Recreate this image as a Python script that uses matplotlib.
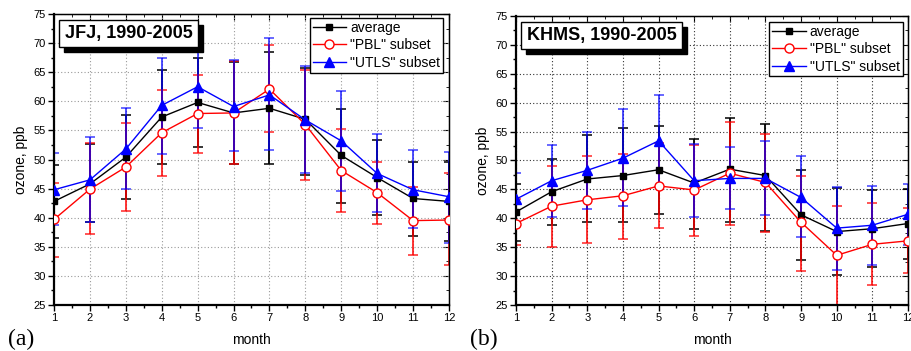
import numpy as np
import matplotlib
matplotlib.use("Agg")
import matplotlib.pyplot as plt
from matplotlib.ticker import MultipleLocator
from matplotlib.transforms import offset_copy

plt.rcParams['font.family'] = ['Liberation Sans', 'DejaVu Sans']

months = [1, 2, 3, 4, 5, 6, 7, 8, 9, 10, 11, 12]
labels = ["average", '"PBL" subset', '"UTLS" subset']

# JFJ (a): monthly means and lower / upper ends of the error bars
avg_a = [42.8, 45.8, 50.4, 57.3, 59.8, 58.0, 58.8, 56.9, 50.7, 46.9, 43.3, 42.8]
avg_a_lo = [36.5, 39.2, 43.2, 49.2, 52.1, 49.3, 49.2, 47.3, 42.5, 40.5, 36.9, 36.0]
avg_a_hi = [49.0, 52.6, 57.6, 65.4, 67.5, 66.8, 68.4, 65.8, 58.7, 53.3, 49.6, 49.5]
pbl_a = [39.7, 44.9, 48.7, 54.6, 57.9, 58.0, 62.1, 56.0, 48.1, 44.3, 39.5, 39.6]
pbl_a_lo = [33.3, 37.2, 41.1, 47.2, 51.2, 49.2, 54.7, 46.5, 40.9, 38.9, 33.6, 31.9]
pbl_a_hi = [46.0, 52.8, 56.3, 61.9, 64.5, 67.0, 69.7, 65.3, 55.3, 49.6, 45.3, 47.6]
utls_a = [44.8, 46.5, 51.8, 59.3, 62.5, 59.1, 61.1, 56.8, 53.2, 47.6, 44.8, 43.6]
utls_a_lo = [38.7, 39.3, 44.9, 50.9, 55.4, 51.5, 51.7, 47.6, 44.6, 40.9, 38.2, 35.6]
utls_a_hi = [51.1, 53.9, 58.9, 67.4, 71.0, 67.1, 70.8, 66.1, 61.8, 54.4, 51.6, 51.3]

# KHMS (b)
avg_b = [41.1, 44.6, 46.8, 47.4, 48.4, 46.1, 48.5, 47.4, 40.6, 37.7, 38.2, 39.1]
avg_b_lo = [36.0, 38.8, 39.4, 39.3, 40.8, 38.2, 39.3, 37.8, 32.7, 30.2, 31.6, 33.0]
avg_b_hi = [46.0, 50.2, 54.4, 55.7, 55.9, 53.8, 57.4, 56.3, 48.4, 45.3, 44.9, 45.0]
pbl_b = [39.1, 42.1, 43.2, 43.9, 45.6, 44.9, 47.8, 46.2, 39.3, 33.6, 35.5, 36.1]
pbl_b_lo = [35.3, 35.1, 35.7, 36.5, 38.4, 36.9, 38.8, 37.7, 30.9, 24.5, 28.4, 30.5]
pbl_b_hi = [43.3, 49.0, 50.7, 51.1, 53.0, 52.6, 56.7, 54.5, 47.4, 42.1, 42.6, 41.7]
utls_b = [43.3, 46.5, 48.3, 50.4, 53.4, 46.5, 46.9, 46.9, 43.6, 38.3, 38.8, 40.7]
utls_b_lo = [39.0, 40.3, 41.6, 42.1, 45.5, 40.2, 41.6, 40.5, 36.8, 31.1, 31.9, 35.3]
utls_b_hi = [47.8, 52.6, 54.9, 58.9, 61.3, 52.8, 52.4, 53.4, 50.8, 45.5, 45.6, 46.0]


def draw_series(ax, y, lo, hi, color, marker, ms, face, label, alpha):
    y = np.array(y)
    yerr = [y - np.array(lo), np.array(hi) - y]
    ax.errorbar(months, y, yerr=yerr, fmt='none', ecolor=color, elinewidth=1.3,
                capsize=3.5, capthick=1.1, alpha=alpha, zorder=2)
    ax.plot(months, y, color=color, lw=1.0, marker=marker, ms=ms,
            mfc=face, mec=color, mew=1.0, label=label, zorder=3)


def setup_panel(ax, title, grid_color, leg_anchor, letter, fig):
    ax.set_xlim(1, 12)
    ax.set_ylim(25, 75)
    ax.xaxis.set_major_locator(MultipleLocator(1))
    ax.xaxis.set_minor_locator(MultipleLocator(0.5))
    ax.yaxis.set_major_locator(MultipleLocator(5))
    ax.yaxis.set_minor_locator(MultipleLocator(2.5))
    ax.grid(True, which='major', color=grid_color, linestyle=(0, (1, 2)), lw=0.8)
    ax.set_axisbelow(True)
    ax.tick_params(which='major', direction='out', length=4, width=1.0, labelsize=8, pad=2)
    ax.tick_params(which='minor', direction='out', length=2, width=1.0)
    for side in ['left', 'bottom']:
        ax.spines[side].set_linewidth(1.6)
    for side in ['top', 'right']:
        ax.spines[side].set_linewidth(1.0)

    top = ax.secondary_xaxis('top')
    top.xaxis.set_major_locator(MultipleLocator(1))
    top.xaxis.set_minor_locator(MultipleLocator(0.5))
    top.tick_params(which='major', direction='in', length=4, labeltop=False)
    top.tick_params(which='minor', direction='in', length=2)
    right = ax.secondary_yaxis('right')
    right.yaxis.set_major_locator(MultipleLocator(5))
    right.yaxis.set_minor_locator(MultipleLocator(2.5))
    right.tick_params(which='major', direction='in', length=4, labelright=False)
    right.tick_params(which='minor', direction='in', length=2)

    ax.set_xlabel("month", fontsize=10, labelpad=7)
    ax.set_ylabel("ozone, ppb", fontsize=10, labelpad=4)

    leg = ax.legend(loc='upper right', bbox_to_anchor=leg_anchor, fontsize=10,
                    handlelength=2.4, handletextpad=0.3, labelspacing=0.25,
                    borderpad=0.2, borderaxespad=0, fancybox=False,
                    framealpha=1, edgecolor='black')
    leg.get_frame().set_linewidth(1.0)

    # title box with black drop shadow
    shadow = offset_copy(ax.transAxes, fig=fig, x=5, y=-5, units='dots')
    ax.text(0.027, 0.962, title, transform=shadow, ha='left', va='top',
            fontsize=13, fontweight='bold', color='black', zorder=5,
            bbox=dict(boxstyle='square,pad=0.3', fc='black', ec='black'))
    ax.text(0.027, 0.962, title, transform=ax.transAxes, ha='left', va='top',
            fontsize=13, fontweight='bold', color='black', zorder=6,
            bbox=dict(boxstyle='square,pad=0.3', fc='white', ec='black', lw=1.0))

    fig.text(letter[0], letter[1], letter[2], fontsize=17,
             family=['Liberation Serif', 'DejaVu Serif'], ha='left', va='baseline')


fig = plt.figure(figsize=(9.12, 3.51), dpi=100)
ax_a = fig.add_axes([54 / 912, 46 / 351, 395 / 912, 291 / 351])
ax_b = fig.add_axes([516 / 912, 46 / 351, 392 / 912, 289 / 351])

draw_series(ax_a, avg_a, avg_a_lo, avg_a_hi, 'black', 's', 5, 'black', labels[0], 1.0)
draw_series(ax_a, pbl_a, pbl_a_lo, pbl_a_hi, 'red', 'o', 6.5, 'white', labels[1], 0.85)
draw_series(ax_a, utls_a, utls_a_lo, utls_a_hi, 'blue', '^', 7, 'blue', labels[2], 0.75)
setup_panel(ax_a, "JFJ, 1990-2005", '#9a9a9a', (0.985, 0.986),
            (8 / 912, 6 / 351, "(a)"), fig)

draw_series(ax_b, avg_b, avg_b_lo, avg_b_hi, 'black', 's', 5, 'black', labels[0], 1.0)
draw_series(ax_b, pbl_b, pbl_b_lo, pbl_b_hi, 'red', 'o', 6.5, 'white', labels[1], 0.85)
draw_series(ax_b, utls_b, utls_b_lo, utls_b_hi, 'blue', '^', 7, 'blue', labels[2], 0.75)
setup_panel(ax_b, "KHMS, 1990-2005", '#333333', (0.986, 0.980),
            (470 / 912, 6 / 351, "(b)"), fig)

fig.savefig("out.png", dpi=100)
